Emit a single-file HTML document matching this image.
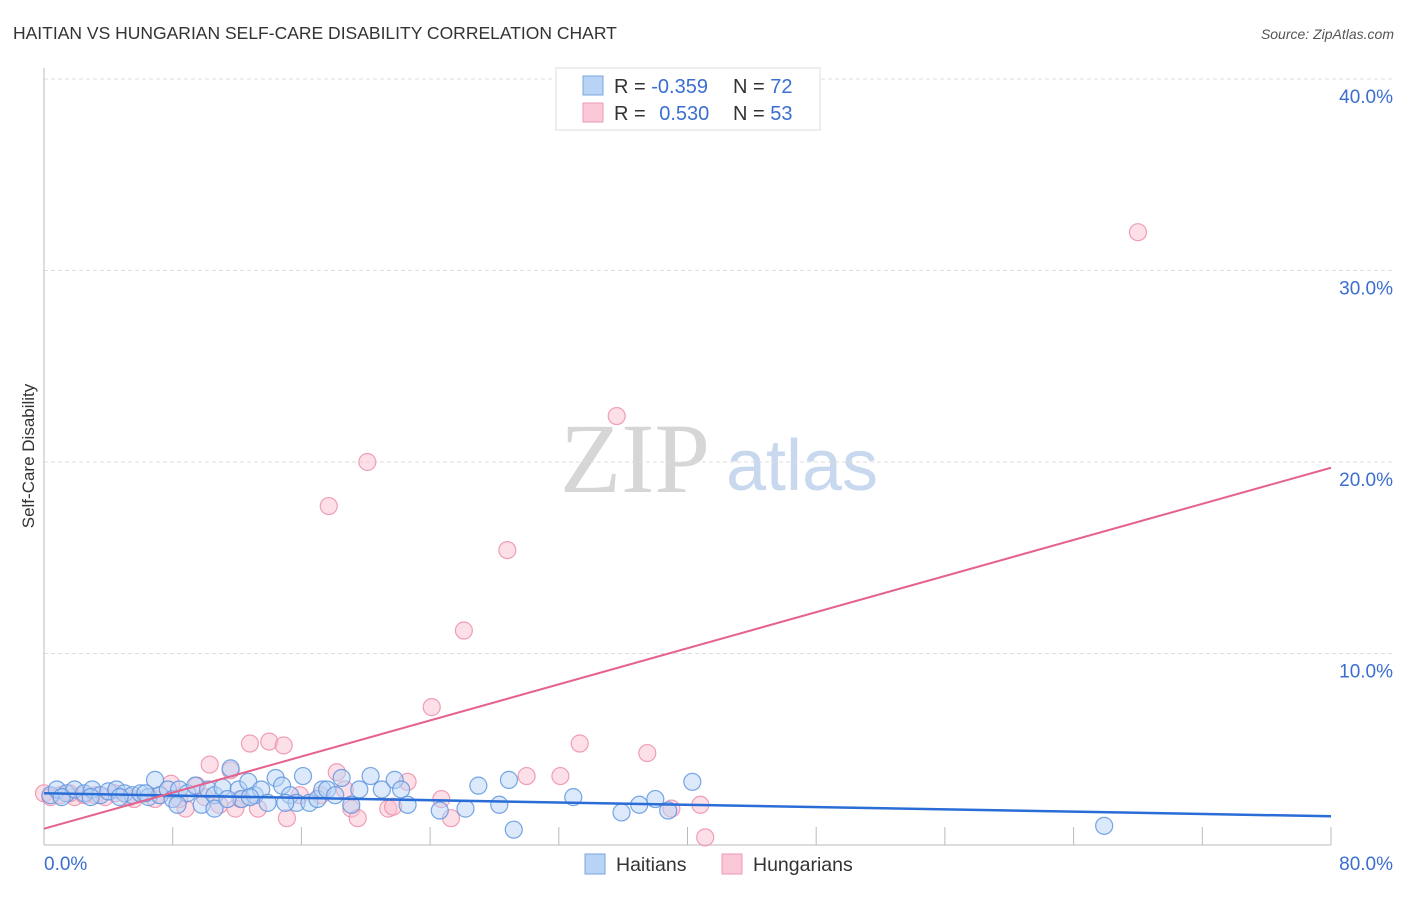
<!DOCTYPE html>
<html><head><meta charset="utf-8"><style>
html,body{margin:0;padding:0;background:#fff;}
body{width:1406px;height:892px;overflow:hidden;font-family:"Liberation Sans",sans-serif;}
</style></head><body>
<svg id="chart" width="1406" height="892" xmlns="http://www.w3.org/2000/svg" font-family="Liberation Sans, sans-serif">
<text x="13" y="39" font-size="17.5" fill="#333">HAITIAN VS HUNGARIAN SELF-CARE DISABILITY CORRELATION CHART</text>
<text x="1394" y="39" font-size="14" fill="#555" font-style="italic" text-anchor="end">Source: ZipAtlas.com</text>
<text transform="translate(34,456) rotate(-90)" font-size="17" fill="#333" text-anchor="middle">Self-Care Disability</text>
<g>
<text x="635" y="492" font-size="100" fill="#d6d6d6" font-family="Liberation Serif, serif" text-anchor="middle">ZIP</text>
<text x="802" y="490" font-size="72" fill="#c8d8ef" text-anchor="middle">atlas</text>
</g>
<g id="grid"></g>
<g id="axes"></g>
<g id="pts"></g>
<g id="trend"></g>
<g>
<rect x="556" y="68" width="264" height="62" fill="#fff" stroke="#ddd"/>
<rect x="583" y="76" width="20" height="19" fill="#b8d3f5" stroke="#7aa7e0"/>
<rect x="583" y="103" width="20" height="19" fill="#fac8d6" stroke="#ee9ab4"/>
<text x="614" y="93" font-size="20" fill="#333">R = <tspan fill="#3a6fd0">-0.359</tspan></text>
<text x="733" y="93" font-size="20" fill="#333">N = <tspan fill="#3a6fd0">72</tspan></text>
<text x="614" y="120" font-size="20" fill="#333">R = <tspan fill="#3a6fd0" dx="8">0.530</tspan></text>
<text x="733" y="120" font-size="20" fill="#333">N = <tspan fill="#3a6fd0">53</tspan></text>
</g>
<g>
<rect x="585" y="854" width="20" height="20" fill="#b8d3f5" stroke="#7aa7e0"/>
<text x="616" y="871" font-size="19.5" fill="#333">Haitians</text>
<rect x="722" y="854" width="20" height="20" fill="#fac8d6" stroke="#ee9ab4"/>
<text x="753" y="871" font-size="19.5" fill="#333">Hungarians</text>
</g>
</svg>
<script>
const xTickLabels=["0.0%","80.0%"];
const yTicks=[10,20,30,40];
const haitiansX=[0.4,0.8,1.4,1.9,2.5,3.0,3.5,4.0,4.5,5.0,5.5,6.0,6.5,6.9,7.2,7.7,8.0,8.4,8.9,9.4,9.8,10.2,10.6,11.1,11.6,12.1,12.3,12.7,13.1,13.5,13.9,14.4,14.8,15.3,15.7,16.1,16.5,17.0,17.3,17.6,18.1,18.5,19.1,19.6,20.3,21.0,21.8,22.2,22.6,24.6,26.2,27.0,28.3,28.9,29.2,32.9,35.9,37.0,38.0,38.8,40.3,65.9,1.1,2.9,4.7,6.3,8.3,10.6,11.4,12.8,15.0];
const haitiansY=[2.6,2.9,2.7,2.9,2.7,2.9,2.6,2.8,2.9,2.7,2.6,2.7,2.5,3.4,2.6,2.9,2.4,2.9,2.7,3.1,2.1,2.9,2.6,3.0,4.0,2.9,2.4,3.3,2.6,2.9,2.2,3.5,3.1,2.6,2.2,3.6,2.2,2.4,2.9,2.9,2.6,3.5,2.1,2.9,3.6,2.9,3.4,2.9,2.1,1.8,1.9,3.1,2.1,3.4,0.8,2.5,1.7,2.1,2.4,1.8,3.3,1.0,2.5,2.5,2.5,2.7,2.1,1.9,2.4,2.5,2.2];
const hungariansX=[68.0,35.6,20.1,17.7,28.8,26.1,24.1,12.8,14.0,14.9,33.3,37.5,10.3,11.6,18.2,30.0,32.1,7.9,9.5,22.6,0.0,0.4,1.0,1.9,3.2,4.4,5.6,6.9,8.8,10.9,11.9,13.3,15.1,17.2,19.1,19.5,21.4,21.7,24.7,25.3,39.0,40.8,41.1,18.7,7.2,10.0,12.2,8.4,5.3,3.8,2.5,1.6,15.9];
const hungariansY=[32.0,22.4,20.0,17.7,15.4,11.2,7.2,5.3,5.4,5.2,5.3,4.8,4.2,3.9,3.8,3.6,3.6,3.2,3.1,3.3,2.7,2.5,2.6,2.5,2.6,2.7,2.4,2.4,1.9,2.1,1.9,1.9,1.4,2.6,1.9,1.4,1.9,2.0,2.4,1.4,1.9,2.1,0.4,2.9,2.6,2.5,2.4,2.4,2.5,2.5,2.6,2.7,2.6];
const haitiansTrend=[2.7,1.5];
const hungariansTrend=[0.85,19.7];
const NS="http://www.w3.org/2000/svg";
const X0=44,X1=1331,Y0=845,Y40=79;
function sx(v){return X0+(X1-X0)*v/80;}
function sy(v){return Y0-(Y0-Y40)*v/40;}
function mk(tag,attrs,parent){const e=document.createElementNS(NS,tag);for(const k in attrs)e.setAttribute(k,attrs[k]);parent.appendChild(e);return e;}
const grid=document.getElementById('grid'),axes=document.getElementById('axes'),pts=document.getElementById('pts'),trend=document.getElementById('trend');
yTicks.forEach(t=>{
const l=mk('line',{x1:X0,x2:1395,y1:sy(t),y2:sy(t),stroke:'#ddd','stroke-dasharray':'4,3'},grid);


const tx=mk('text',{x:1393,y:sy(t)+24,'font-size':19,fill:'#3a6fd0','text-anchor':'end'},grid);
tx.textContent=t.toFixed(1)+'%';


});
const ya=mk('line',{x1:X0,x2:X0,y1:68,y2:Y0,stroke:'#bbb'},axes);


const xa=mk('line',{x1:X0,x2:X1,y1:Y0,y2:Y0,stroke:'#bbb'},axes);


for(let i=1;i<=10;i++){const tk=mk('line',{x1:sx(i*8),x2:sx(i*8),y1:Y0-18,y2:Y0,stroke:'#bbb'},axes);

}
const xl0=mk('text',{x:X0,y:870,'font-size':19,fill:'#3a6fd0'},axes);xl0.textContent=xTickLabels[0];


const xl1=mk('text',{x:1393,y:870,'font-size':19,fill:'#3a6fd0','text-anchor':'end'},axes);xl1.textContent=xTickLabels[1];


function series(xs,ys,fill,stroke,name){xs.forEach((x,i)=>{const c=mk('circle',{cx:sx(x),cy:sy(ys[i]),r:8.5,fill:fill,'fill-opacity':0.5,stroke:stroke,'stroke-width':1.2,'stroke-opacity':0.85},pts);

});}
series(hungariansX,hungariansY,'#fac0d0','#ec8fab','hungarians');
series(haitiansX,haitiansY,'#b8d3f5','#5f95df','haitians');
const tb=mk('line',{x1:sx(0),y1:sy(haitiansTrend[0]),x2:sx(80),y2:sy(haitiansTrend[1]),stroke:'#2a6dd6','stroke-width':2.5},trend);


const tp=mk('line',{x1:sx(0),y1:sy(hungariansTrend[0]),x2:sx(80),y2:sy(hungariansTrend[1]),stroke:'#e5628d','stroke-width':2},trend);


</script>
</body></html>
